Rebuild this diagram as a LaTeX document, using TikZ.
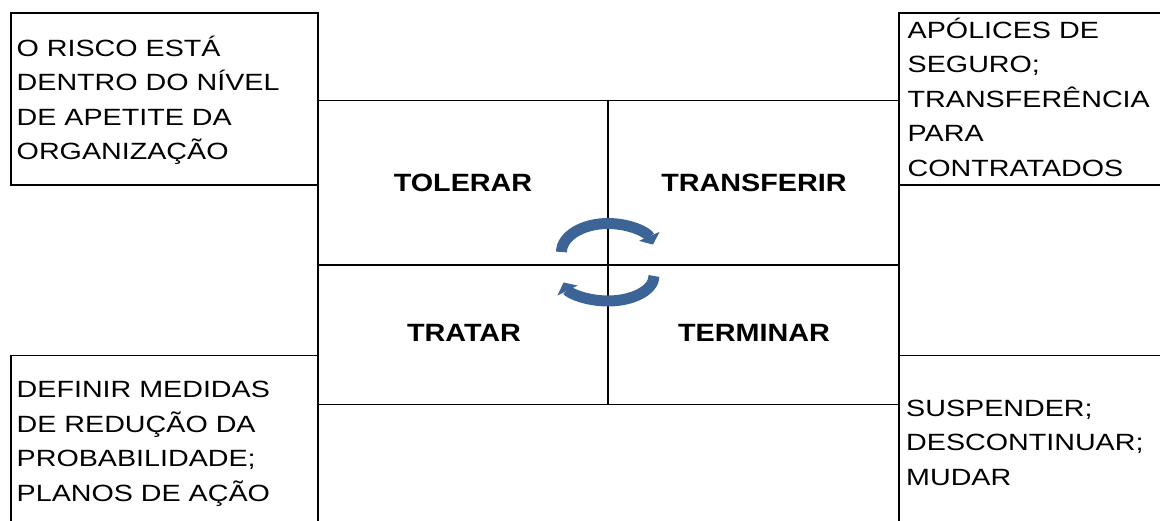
\documentclass[tikz,border=0pt]{standalone}
\usepackage{fontspec}
\setmainfont{Liberation Sans}
\newfontfamily\boxfont[FakeStretch=1.22]{Liberation Sans}
\newfontfamily\labfont[FakeStretch=1.15]{Liberation Sans}
\usetikzlibrary{arrows.meta}
\definecolor{cycleblue}{RGB}{61,100,151}
\newcommand{\boxtext}[1]{\parbox[t]{300pt}{\boxfont\fontsize{23.5pt}{34.5pt}\selectfont\raggedright #1}}
\begin{document}
\begin{tikzpicture}[x=1pt,y=-1pt,
  frame/.style={line width=1.8pt, black},
  lab/.style={font=\labfont\bfseries\fontsize{25pt}{30pt}\selectfont, inner sep=0pt},
  boxtxt/.style={anchor=base west, inner sep=0pt},
  cyc/.style={cycleblue, line width=11pt, -{Triangle[width=22pt,length=9pt]}}]
\useasboundingbox (0,0) rectangle (1160,521);
\clip (0,0) rectangle (1160,521);
% outer boxes
\draw[frame] (11,12.7) rectangle (318,185);
\draw[frame] (899,12.7) rectangle (1170,185);
\draw[frame] (11,530) -- (11,355.5) -- (318,355.5) -- (318,530);
\draw[frame] (1170,355.5) -- (899,355.5) -- (899,530);
% central grid
\draw[frame] (318,100.5) rectangle (899,404.5);
\draw[frame] (608,100.5) -- (608,404.5);
\draw[frame] (318,265) -- (899,265);
% texts
\node[boxtxt] (tl) at (16.5,56.5) {\boxtext{O RISCO ESTÁ\\DENTRO DO NÍVEL\\DE APETITE DA\\ORGANIZAÇÃO}};
\node[boxtxt] (tr) at (907.5,38.5) {\boxtext{APÓLICES DE\\SEGURO;\\TRANSFERÊNCIA\\PARA\\CONTRATADOS}};
\node[boxtxt] (bl) at (16.5,398) {\boxtext{DEFINIR MEDIDAS\\DE REDUÇÃO DA\\PROBABILIDADE;\\PLANOS DE AÇÃO}};
\node[boxtxt] (br) at (906,416.5) {\boxtext{SUSPENDER;\\DESCONTINUAR;\\MUDAR}};
% labels
\node[lab] (tol) at (463,182.5) {TOLERAR};
\node[lab] (tra) at (754,182.5) {TRANSFERIR};
\node[lab] (trt) at (464,333) {TRATAR};
\node[lab] (ter) at (754,333) {TERMINAR};
% cycle arrows
\draw[cyc] (561.5,252) arc[start angle=180, end angle=345, x radius=46.5, y radius=28.5];
\draw[cyc] (654,276) arc[start angle=0, end angle=165, x radius=46, y radius=25];
\end{tikzpicture}
\end{document}
